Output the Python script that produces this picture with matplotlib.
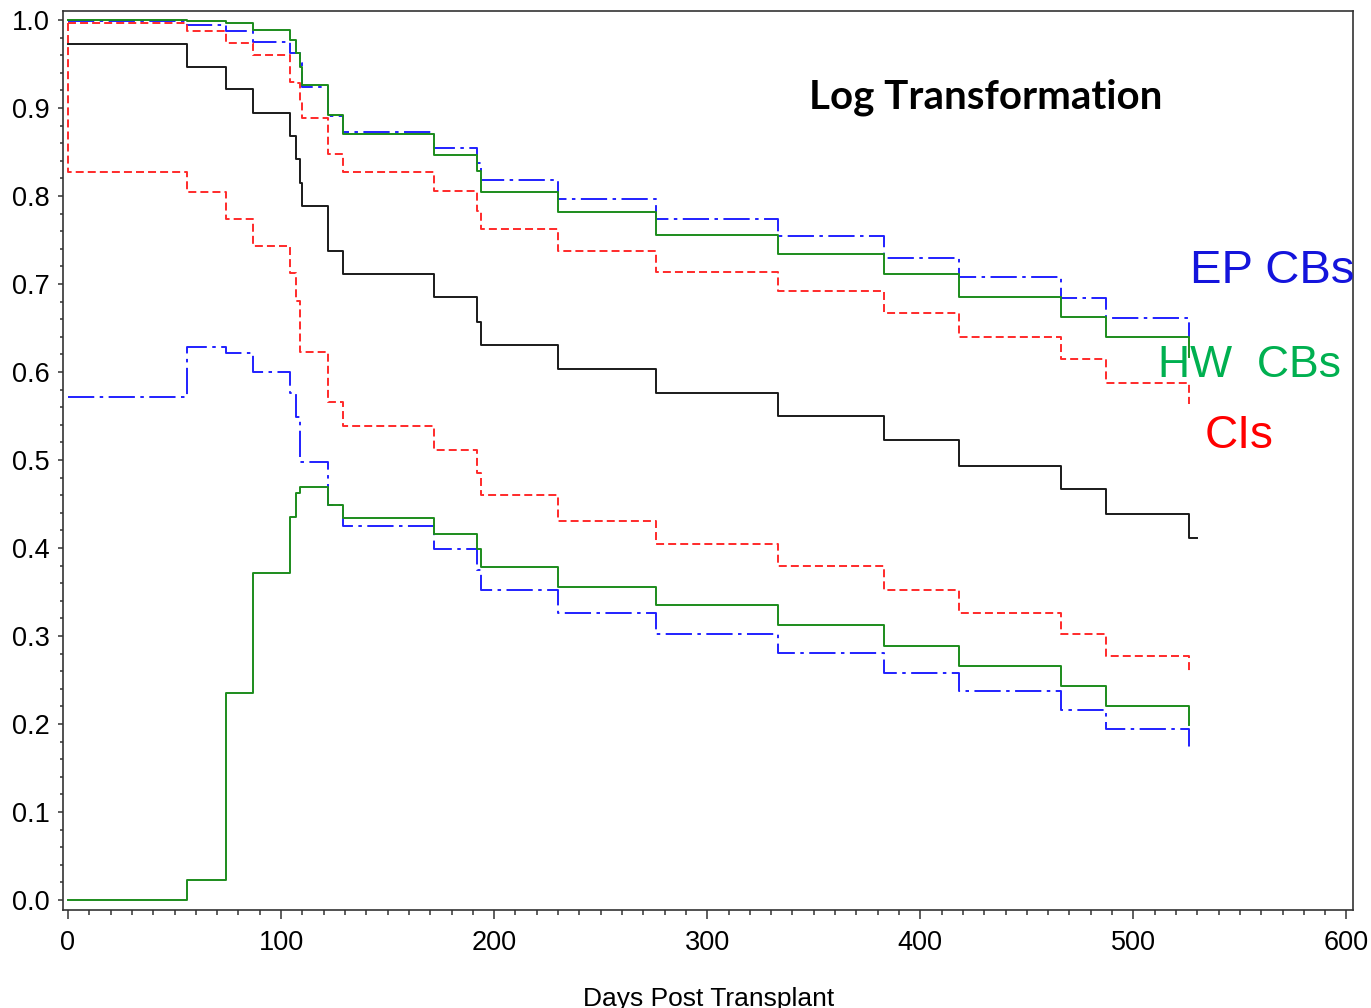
import matplotlib
matplotlib.use("Agg")
import matplotlib.pyplot as plt
import matplotlib.ticker as ticker

# event times (days post transplant), shared by all step curves
days = [0, 56, 74, 87, 104, 107, 109, 110, 122, 129, 172, 192, 194,
        230, 276, 333, 383, 418, 466, 487, 526]
last_day = 530

# survival estimate (black)
surv = [0.973, 0.946, 0.921, 0.894, 0.868, 0.842, 0.815, 0.789, 0.737, 0.711,
        0.685, 0.657, 0.631, 0.603, 0.5765, 0.550, 0.5227, 0.4935, 0.4674, 0.4386, 0.4114]

# EP confidence bands (blue)
ep_upper = [0.999, 0.994, 0.987, 0.975, 0.963, 0.962, 0.951, 0.924, 0.891, 0.873,
            0.855, 0.837, 0.818, 0.797, 0.774, 0.755, 0.730, 0.708, 0.684, 0.661, 0.640]
ep_lower = [0.571, 0.628, 0.621, 0.600, 0.5765, 0.549, 0.498, 0.498, 0.449, 0.4245,
            0.3985, 0.375, 0.3523, 0.3258, 0.3023, 0.281, 0.2583, 0.237, 0.216, 0.1947, 0.174]

# Hall-Wellner confidence bands (green)
hw_upper = [1.0, 0.999, 0.997, 0.989, 0.977, 0.962, 0.947, 0.926, 0.892, 0.870,
            0.847, 0.828, 0.8045, 0.782, 0.756, 0.734, 0.711, 0.6856, 0.663, 0.640, 0.617]
hw_lower = [0.0, 0.0227, 0.2348, 0.371, 0.4356, 0.462, 0.4697, 0.4697, 0.449, 0.4337,
            0.4159, 0.3985, 0.3788, 0.356, 0.3348, 0.312, 0.289, 0.266, 0.243, 0.2205, 0.199]

# pointwise confidence limits (red)
ci_upper = [0.996, 0.987, 0.9735, 0.960, 0.930, 0.928, 0.907, 0.889, 0.848, 0.827,
            0.806, 0.783, 0.762, 0.738, 0.714, 0.692, 0.667, 0.640, 0.615, 0.588, 0.564]
ci_lower_start = 0.996
ci_lower = [0.827, 0.804, 0.774, 0.743, 0.712, 0.681, 0.623, 0.623, 0.566, 0.5386,
            0.5117, 0.485, 0.4598, 0.4307, 0.4045, 0.379, 0.3526, 0.3258, 0.3023, 0.2773, 0.2576]

blue = "#2020ff"
green = "#1c8c1c"
red = "#ff2a2a"
lw = 1.4
dashdot = (0, (13.5, 2.8, 1.8, 2.8))
dashed = (0, (4.1, 2.1))

fig = plt.figure(figsize=(13.71, 10.08), dpi=100)
ax = fig.add_axes([63.3 / 1371, 1 - 910 / 1008, (1353.3 - 63.3) / 1371, (910 - 11) / 1008])

ax.plot(days + [last_day], surv + [surv[-1]], drawstyle="steps-post", color="#1a1a1a", lw=lw)
ax.plot(days, ep_upper, drawstyle="steps-post", color=blue, lw=lw, linestyle=dashdot)
ax.plot(days, ep_lower, drawstyle="steps-post", color=blue, lw=lw, linestyle=dashdot)
ax.plot(days, hw_upper, drawstyle="steps-post", color=green, lw=lw)
ax.plot(days, hw_lower, drawstyle="steps-post", color=green, lw=lw)
ax.plot(days, ci_upper, drawstyle="steps-post", color=red, lw=lw, linestyle=dashed)
ax.plot([0] + days, [ci_lower_start] + ci_lower, drawstyle="steps-post", color=red, lw=lw,
        linestyle=dashed)

ax.set_xlim(-2.2, 603.2)
ax.set_ylim(-0.0114, 1.0102)
ax.xaxis.set_major_locator(ticker.MultipleLocator(100))
ax.xaxis.set_minor_locator(ticker.MultipleLocator(10))
ax.yaxis.set_major_locator(ticker.MultipleLocator(0.1))
ax.yaxis.set_minor_locator(ticker.MultipleLocator(0.02))
ax.yaxis.set_major_formatter(ticker.FormatStrFormatter("%.1f"))

for s in ax.spines.values():
    s.set_color("#333333")
    s.set_linewidth(1.2)

ax.tick_params(axis="both", which="both", direction="out", color="#333333", width=1.1,
               labelsize=19.5)
ax.tick_params(axis="x", which="major", length=6.5, pad=8)
ax.tick_params(axis="x", which="minor", length=3.6)
ax.tick_params(axis="y", which="major", length=3.5, pad=6)
ax.tick_params(axis="y", which="minor", length=2.0)
for lab in ax.get_xticklabels() + ax.get_yticklabels():
    lab.set_fontfamily("Liberation Sans")

ax.set_xlabel("Days Post Transplant", fontsize=19, family="Liberation Sans", labelpad=22)

fig.text(986 / 1371, 1 - 97 / 1008, "Log Transformation", fontsize=29, fontweight="bold",
         family="Lato", ha="center", va="center")
fig.text(1190 / 1371, 1 - 282.7 / 1008, "EP CBs", fontsize=34, color="#1414dc",
         family="Liberation Sans", va="baseline")
fig.text(1158 / 1371, 1 - 376.7 / 1008, "HW  CBs", fontsize=32, color="#00b050",
         family="Liberation Sans", va="baseline")
fig.text(1205 / 1371, 1 - 448.3 / 1008, "CIs", fontsize=33, color="#ff0000",
         family="Liberation Sans", va="baseline")

plt.savefig("out.png", dpi=100)
